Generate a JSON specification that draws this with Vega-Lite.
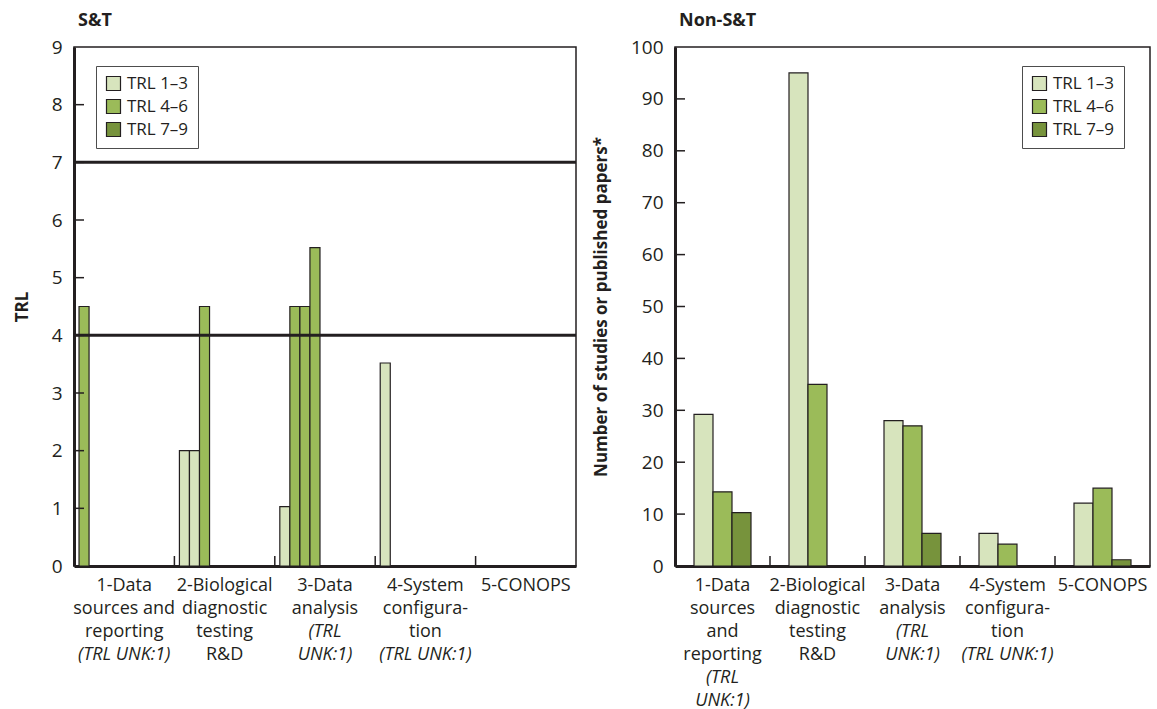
{
  "$schema": "https://vega.github.io/schema/vega-lite/v6.json",
  "padding": {"left": 12, "top": 11, "right": 0, "bottom": 0},
  "autosize": {"type": "pad"},
  "background": "white",
  "config": {
    "font": "Open Sans",
    "view": {"stroke": "#231f20", "strokeWidth": 1.5},
    "axis": {
      "labelFont": "Open Sans", "labelFontSize": 19, "labelColor": "#231f20",
      "titleFont": "Open Sans", "titleFontSize": 17, "titleFontWeight": "bold", "titleColor": "#231f20",
      "domainColor": "#231f20", "domainWidth": 3, "grid": false
    },
    "title": {"font": "Open Sans", "fontSize": 18, "fontWeight": "bold", "anchor": "start", "frame": "group", "color": "#231f20", "offset": 8, "dx": 4},
    "legend": {
      "orient": "none", "title": null, "symbolType": "square", "symbolSize": 196,
      "symbolStrokeColor": "#231f20", "symbolStrokeWidth": 1.2, "labelFont": "Open Sans", "labelFontSize": 17,
      "labelColor": "#231f20", "padding": 9, "strokeColor": "#4d4d4d", "fillColor": "white", "rowPadding": 4, "labelOffset": 5
    },
    "concat": {"spacing": 12}
  },
  "datasets": {
    "st": [
      {"cat": "1", "slot": 1, "level": "TRL 4–6", "value": 4.5},
      {"cat": "2", "slot": 1, "level": "TRL 1–3", "value": 2},
      {"cat": "2", "slot": 2, "level": "TRL 1–3", "value": 2},
      {"cat": "2", "slot": 3, "level": "TRL 4–6", "value": 4.5},
      {"cat": "3", "slot": 1, "level": "TRL 1–3", "value": 1.03},
      {"cat": "3", "slot": 2, "level": "TRL 4–6", "value": 4.5},
      {"cat": "3", "slot": 3, "level": "TRL 4–6", "value": 4.5},
      {"cat": "3", "slot": 4, "level": "TRL 4–6", "value": 5.52},
      {"cat": "4", "slot": 1, "level": "TRL 1–3", "value": 3.52}
    ],
    "thresholds": [{"value": 4}, {"value": 7}],
    "st_yticks": [{"v": 1}, {"v": 2}, {"v": 3}, {"v": 4}, {"v": 5}, {"v": 6}, {"v": 7}, {"v": 8}],
    "nonst_yticks": [{"v": 10}, {"v": 20}, {"v": 30}, {"v": 40}, {"v": 50}, {"v": 60}, {"v": 70}, {"v": 80}, {"v": 90}],
    "nonst": [
      {"cat": "1", "level": "TRL 1–3", "value": 29.2},
      {"cat": "1", "level": "TRL 4–6", "value": 14.3},
      {"cat": "1", "level": "TRL 7–9", "value": 10.3},
      {"cat": "2", "level": "TRL 1–3", "value": 95},
      {"cat": "2", "level": "TRL 4–6", "value": 35},
      {"cat": "3", "level": "TRL 1–3", "value": 28},
      {"cat": "3", "level": "TRL 4–6", "value": 27},
      {"cat": "3", "level": "TRL 7–9", "value": 6.3},
      {"cat": "4", "level": "TRL 1–3", "value": 6.3},
      {"cat": "4", "level": "TRL 4–6", "value": 4.2},
      {"cat": "5", "level": "TRL 1–3", "value": 12.1},
      {"cat": "5", "level": "TRL 4–6", "value": 15},
      {"cat": "5", "level": "TRL 7–9", "value": 1.2}
    ],
    "st_labels": [
      {"cat": "1", "normal": "1-Data\nsources and\nreporting", "italic": "\u200b\n\u200b\n\u200b\n(TRL UNK:1)"},
      {"cat": "2", "normal": "2-Biological\ndiagnostic\ntesting\nR&D", "italic": "\u200b"},
      {"cat": "3", "normal": "3-Data\nanalysis", "italic": "\u200b\n\u200b\n(TRL\nUNK:1)"},
      {"cat": "4", "normal": "4-System\nconfigura-\ntion", "italic": "\u200b\n\u200b\n\u200b\n(TRL UNK:1)"},
      {"cat": "5", "normal": "5-CONOPS", "italic": "\u200b"}
    ],
    "nonst_labels": [
      {"cat": "1", "normal": "1-Data\nsources\nand\nreporting", "italic": "\u200b\n\u200b\n\u200b\n\u200b\n(TRL\nUNK:1)"},
      {"cat": "2", "normal": "2-Biological\ndiagnostic\ntesting\nR&D", "italic": "\u200b"},
      {"cat": "3", "normal": "3-Data\nanalysis", "italic": "\u200b\n\u200b\n(TRL\nUNK:1)"},
      {"cat": "4", "normal": "4-System\nconfigura-\ntion", "italic": "\u200b\n\u200b\n\u200b\n(TRL UNK:1)"},
      {"cat": "5", "normal": "5-CONOPS", "italic": "\u200b"}
    ]
  },
  "resolve": {
    "scale": {"color": "independent", "x": "independent", "y": "independent", "xOffset": "independent"},
    "legend": {"color": "independent"}
  },
  "hconcat": [
    {
      "width": 502,
      "height": 519,
      "title": "S&T",
      "resolve": {"scale": {"x": "independent", "y": "independent"}},
      "layer": [
        {
          "data": {"name": "st"},
          "mark": {"type": "bar", "stroke": "#231f20", "strokeWidth": 1.2},
          "encoding": {
            "x": {"field": "cat", "type": "nominal",
              "scale": {"domain": ["1", "2", "3", "4", "5"], "paddingInner": 0, "paddingOuter": 0},
              "axis": {"title": null, "labels": false, "ticks": false}},
            "xOffset": {"field": "slot", "type": "ordinal",
              "scale": {"domain": [1, 2, 3, 4, 5, 6, 7, 8, 9], "paddingInner": 0, "paddingOuter": 0.5}},
            "y": {"field": "value", "type": "quantitative",
              "scale": {"domain": [0, 9], "nice": false},
              "axis": {"title": "TRL", "format": "d", "values": [0, 1, 2, 3, 4, 5, 6, 7, 8, 9], "ticks": false, "labelPadding": 12, "titlePadding": 20}},
            "color": {"field": "level", "type": "nominal",
              "scale": {"domain": ["TRL 1–3", "TRL 4–6", "TRL 7–9"], "range": ["#d7e4bd", "#9bbb59", "#77933c"]},
              "legend": {"legendX": 22, "legendY": 19}}
          }
        },
        {
          "data": {"name": "thresholds"},
          "mark": {"type": "rule", "stroke": "#231f20", "strokeWidth": 3},
          "encoding": {"y": {"field": "value", "type": "quantitative", "scale": {"domain": [0, 9], "nice": false}, "axis": null}}
        },
        {
          "data": {"name": "st_yticks"},
          "mark": {"type": "rule", "stroke": "#231f20", "strokeWidth": 1.5},
          "encoding": {
            "y": {"field": "v", "type": "quantitative", "scale": {"domain": [0, 9], "nice": false}, "axis": null},
            "x": {"datum": 0, "type": "quantitative", "scale": {"domain": [0, 50.2], "nice": false, "zero": false}, "axis": null},
            "x2": {"datum": 1}
          }
        },
        {
          "data": {"name": "st_labels"},
          "mark": {"type": "rule", "stroke": "#231f20", "strokeWidth": 1.5},
          "encoding": {
            "x": {"field": "cat", "type": "nominal", "bandPosition": 0,
              "scale": {"domain": ["1", "2", "3", "4", "5"], "paddingInner": 0, "paddingOuter": 0}, "axis": null},
            "y": {"datum": 0, "type": "quantitative", "scale": {"domain": [0, 51.9], "nice": false, "zero": false}, "axis": null},
            "y2": {"datum": 1}
          }
        },
        {
          "data": {"name": "st_labels"},
          "mark": {"type": "text", "baseline": "top", "align": "center", "dy": 11, "fontSize": 18, "lineHeight": 23, "lineBreak": "\n", "color": "#231f20", "font": "Open Sans"},
          "encoding": {
            "x": {"field": "cat", "type": "nominal",
              "scale": {"domain": ["1", "2", "3", "4", "5"], "paddingInner": 0, "paddingOuter": 0}, "axis": null},
            "y": {"datum": 0, "type": "quantitative", "scale": {"domain": [0, 9], "nice": false}, "axis": null},
            "text": {"field": "normal"}
          }
        },
        {
          "data": {"name": "st_labels"},
          "mark": {"type": "text", "baseline": "top", "align": "center", "dy": 11, "fontSize": 18, "lineHeight": 23, "lineBreak": "\n", "fontStyle": "italic", "color": "#231f20", "font": "Open Sans"},
          "encoding": {
            "x": {"field": "cat", "type": "nominal",
              "scale": {"domain": ["1", "2", "3", "4", "5"], "paddingInner": 0, "paddingOuter": 0}, "axis": null},
            "y": {"datum": 0, "type": "quantitative", "scale": {"domain": [0, 9], "nice": false}, "axis": null},
            "text": {"field": "italic"}
          }
        }
      ]
    },
    {
      "width": 475,
      "height": 519,
      "title": "Non-S&T",
      "resolve": {"scale": {"x": "independent", "y": "independent"}},
      "layer": [
        {
          "data": {"name": "nonst"},
          "mark": {"type": "bar", "stroke": "#231f20", "strokeWidth": 1.2},
          "encoding": {
            "x": {"field": "cat", "type": "nominal",
              "scale": {"domain": ["1", "2", "3", "4", "5"], "paddingInner": 0, "paddingOuter": 0},
              "axis": {"title": null, "labels": false, "ticks": false}},
            "xOffset": {"field": "level", "type": "nominal",
              "scale": {"domain": ["TRL 1–3", "TRL 4–6", "TRL 7–9"], "paddingInner": 0, "paddingOuter": 1}},
            "y": {"field": "value", "type": "quantitative",
              "scale": {"domain": [0, 100], "nice": false},
              "axis": {"title": "Number of studies or published papers*", "format": "d", "values": [0, 10, 20, 30, 40, 50, 60, 70, 80, 90, 100], "ticks": false, "labelPadding": 12, "titlePadding": 20}},
            "color": {"field": "level", "type": "nominal",
              "scale": {"domain": ["TRL 1–3", "TRL 4–6", "TRL 7–9"], "range": ["#d7e4bd", "#9bbb59", "#77933c"]},
              "legend": {"legendX": 347, "legendY": 19}}
          }
        },
        {
          "data": {"name": "nonst_yticks"},
          "mark": {"type": "rule", "stroke": "#231f20", "strokeWidth": 1.5},
          "encoding": {
            "y": {"field": "v", "type": "quantitative", "scale": {"domain": [0, 100], "nice": false}, "axis": null},
            "x": {"datum": 0, "type": "quantitative", "scale": {"domain": [0, 47.5], "nice": false, "zero": false}, "axis": null},
            "x2": {"datum": 1}
          }
        },
        {
          "data": {"name": "nonst_labels"},
          "mark": {"type": "rule", "stroke": "#231f20", "strokeWidth": 1.5},
          "encoding": {
            "x": {"field": "cat", "type": "nominal", "bandPosition": 0,
              "scale": {"domain": ["1", "2", "3", "4", "5"], "paddingInner": 0, "paddingOuter": 0}, "axis": null},
            "y": {"datum": 0, "type": "quantitative", "scale": {"domain": [0, 51.9], "nice": false, "zero": false}, "axis": null},
            "y2": {"datum": 1}
          }
        },
        {
          "data": {"name": "nonst_labels"},
          "mark": {"type": "text", "baseline": "top", "align": "center", "dy": 11, "fontSize": 18, "lineHeight": 23, "lineBreak": "\n", "color": "#231f20", "font": "Open Sans"},
          "encoding": {
            "x": {"field": "cat", "type": "nominal",
              "scale": {"domain": ["1", "2", "3", "4", "5"], "paddingInner": 0, "paddingOuter": 0}, "axis": null},
            "y": {"datum": 0, "type": "quantitative", "scale": {"domain": [0, 100], "nice": false}, "axis": null},
            "text": {"field": "normal"}
          }
        },
        {
          "data": {"name": "nonst_labels"},
          "mark": {"type": "text", "baseline": "top", "align": "center", "dy": 11, "fontSize": 18, "lineHeight": 23, "lineBreak": "\n", "fontStyle": "italic", "color": "#231f20", "font": "Open Sans"},
          "encoding": {
            "x": {"field": "cat", "type": "nominal",
              "scale": {"domain": ["1", "2", "3", "4", "5"], "paddingInner": 0, "paddingOuter": 0}, "axis": null},
            "y": {"datum": 0, "type": "quantitative", "scale": {"domain": [0, 100], "nice": false}, "axis": null},
            "text": {"field": "italic"}
          }
        }
      ]
    }
  ]
}
